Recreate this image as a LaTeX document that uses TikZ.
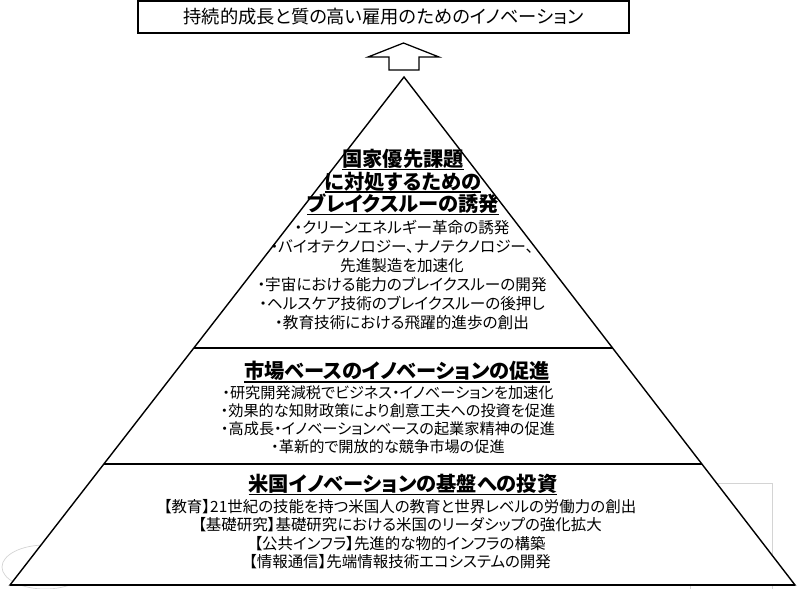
\documentclass[tikz,border=0pt]{standalone}
\usepackage{fontspec}
\setmainfont[RawFeature=+palt]{Noto Sans CJK JP}
\usepackage{tikz}
\usetikzlibrary{calc}
\definecolor{ghostgray}{HTML}{D4D4D4}
\newcommand{\hdul}[1]{\setbox0\hbox{#1}\rlap{\rule[-2.6pt]{\wd0}{1.1pt}}\box0}

\begin{document}
\begin{tikzpicture}[
  x=0.025cm,y=-0.025cm,
  tier/.style={draw=black,line width=1pt,fill=white},
  divider/.style={draw=black,line width=1.4pt},
  lift/.style={draw=black,line width=0.9pt,fill=white,line join=miter},
  ghost/.style={draw=ghostgray,line width=0.5pt},
  goalbox/.style={draw=black,line width=1pt,minimum width=12.275cm,minimum height=0.8cm,inner sep=0pt,font=\fontsize{13}{15}\selectfont},
  head/.style={align=center,inner sep=0pt,font=\fontsize{14.4}{16}\selectfont\bfseries},
  body/.style={align=center,inner sep=0pt,font=\fontsize{11.1}{13.5}\selectfont},
  bodytight/.style={body,font=\fontsize{10.8}{12.8}\selectfont},
  bodybase/.style={body,font=\fontsize{11}{13.2}\selectfont},
]
\useasboundingbox (0,0) rectangle (800,588);
\draw[ghost] (45,567) ellipse [x radius=43,y radius=22];
\draw[ghost] (690,483) rectangle (772,600);
\coordinate (apex) at (404,77);
\coordinate (baseL) at (10,585);
\coordinate (baseR) at (795,585);
\coordinate (upL) at ($(apex)!0.5335!(baseL)$);
\coordinate (upR) at ($(apex)!0.5335!(baseR)$);
\coordinate (lowL) at ($(apex)!0.7618!(baseL)$);
\coordinate (lowR) at ($(apex)!0.7618!(baseR)$);
\node[goalbox] (goal) at (383.5,17) {持続的成長と質の高い雇用のためのイノベーション};
\draw[lift] (403.5,43) -- (439,57) -- (419,57) -- (419,70) -- (389,70) -- (389,57) -- (368,57) -- cycle;
\draw[tier] (apex) -- (baseL) -- (baseR) -- cycle;
\draw[divider] (upL) -- (upR);
\draw[divider] (lowL) -- (lowR);
\draw[divider] (baseL) -- (baseR);
\node[head] (prioHead) at (403,182.5) {\hdul{国家優先課題}\\\hdul{に対処するための}\\\hdul{ブレイクスルーの誘発}};
\node[body] (prioList) at (402,275.5) {・クリーンエネルギー革命の誘発\\・バイオテクノロジー、ナノテクノロジー、\\先進製造を加速化\\・宇宙における能力のブレイクスルーの開発\\・ヘルスケア技術のブレイクスルーの後押し\\・教育技術における飛躍的進歩の創出};
\node[head] (mktHead) at (397,372) {\hdul{市場ベースのイノベーションの促進}};
\node[bodytight] (mktList) at (388,420) {・研究開発減税でビジネス・イノベーションを加速化\\・効果的な知財政策により創意工夫への投資を促進\\・高成長・イノベーションベースの起業家精神の促進\\・革新的で開放的な競争市場の促進};
\node[head] (baseHead) at (403,485) {\hdul{米国イノベーションの基盤への投資}};
\node[bodybase] (baseList) at (400,534) {【教育】21世紀の技能を持つ米国人の教育と世界レベルの労働力の創出\\【基礎研究】基礎研究における米国のリーダシップの強化拡大\\【公共インフラ】先進的な物的インフラの構築\\【情報通信】先端情報技術エコシステムの開発};
\end{tikzpicture}
\end{document}
